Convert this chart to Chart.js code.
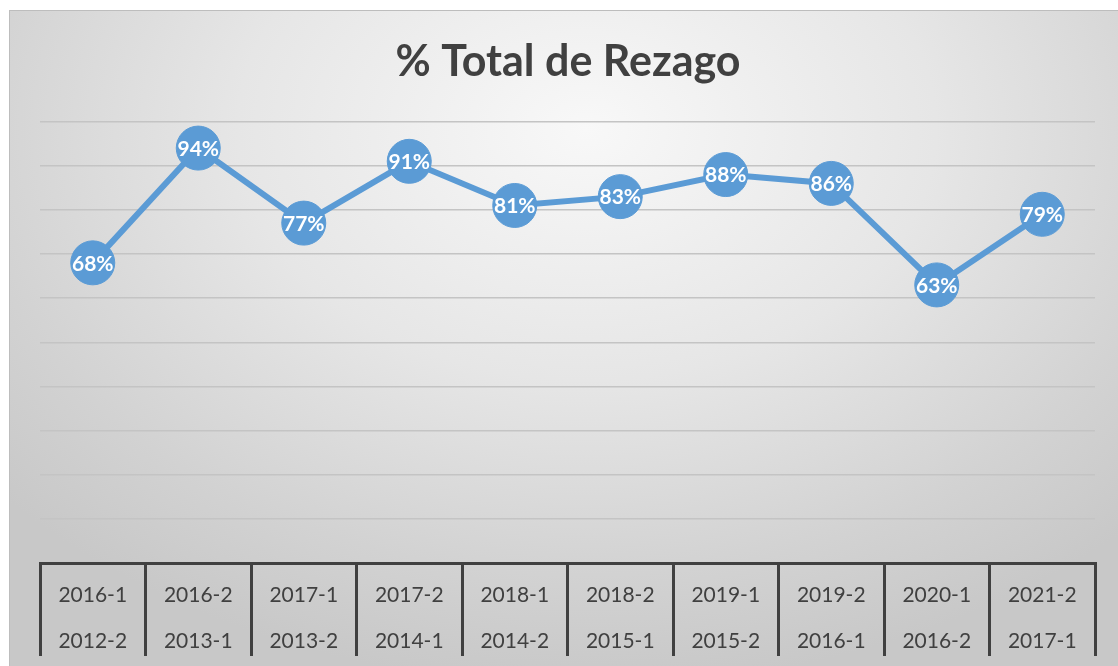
<!DOCTYPE html>
<html>
<head>
<meta charset="utf-8">
<script src="https://cdn.jsdelivr.net/npm/chart.js@4"></script>
<style>
    html, body { margin: 0; padding: 0; background: #ffffff; }
    #bg {
        position: absolute; left: 9px; top: 10px; width: 1109px; height: 656px;
        border-left: 1px solid #bdbdbd; border-top: 1px solid #bdbdbd;
        background: radial-gradient(ellipse 70% 85% at 52% 18%, #f8f8f8 0%, #e6e6e6 45%, #d2d2d2 80%, #c8c8c8 100%);
    }
    #wrap { position: absolute; left: 0; top: 0; width: 1118px; height: 666px; }
</style>
</head>
<body>
<div id="bg"></div>
<div id="wrap"><canvas id="rezagoChart"></canvas></div>
<script>
const periodTop = ['2016-1', '2016-2', '2017-1', '2017-2', '2018-1', '2018-2', '2019-1', '2019-2', '2020-1', '2021-2'];
const periodBottom = ['2012-2', '2013-1', '2013-2', '2014-1', '2014-2', '2015-1', '2015-2', '2016-1', '2016-2', '2017-1'];
const rezagoValues = [68, 94, 77, 91, 81, 83, 88, 86, 63, 79];

// Labels drawn in white in the middle of every point
const pointLabels = {
    id: 'pointLabels',
    afterDatasetsDraw(chart) {
        const ctx = chart.ctx;
        const meta = chart.getDatasetMeta(0);
        ctx.save();
        ctx.fillStyle = '#ffffff';
        ctx.font = 'bold 21px Lato';
        ctx.textAlign = 'center';
        ctx.textBaseline = 'middle';
        meta.data.forEach(function(pt, i) {
            ctx.fillText(rezagoValues[i] + '%', pt.x, pt.y + 1);
        });
        ctx.restore();
    }
};

const ctx = document.getElementById('rezagoChart').getContext('2d');
const rezagoChart = new Chart(ctx, {
    type: 'line',
    data: {
        labels: periodTop.map(function(p, i) { return [p, periodBottom[i]]; }),
        datasets: [{
            label: '% Total de Rezago',
            data: rezagoValues,
            borderColor: '#5b9bd5',
            backgroundColor: '#5b9bd5',
            borderWidth: 6,
            pointRadius: 22,
            pointHoverRadius: 22,
            pointBackgroundColor: '#5b9bd5',
            pointBorderColor: '#5b9bd5',
            pointBorderWidth: 1,
            tension: 0,
            clip: false
        }]
    },
    options: {
        responsive: true,
        maintainAspectRatio: false,
        animation: false,
        layout: {
            padding: { left: 40, right: 22, top: 0, bottom: 3 }
        },
        plugins: {
            legend: { display: false },
            tooltip: { enabled: false },
            title: {
                display: true,
                text: '% Total de Rezago',
                color: '#404040',
                font: { family: 'Lato', size: 43, weight: 'bold' },
                padding: { top: 36, bottom: 34 }
            }
        },
        scales: {
            x: {
                offset: true,
                grid: {
                    offset: true,
                    drawOnChartArea: false,
                    tickLength: 93,
                    color: '#404040',
                    lineWidth: 3
                },
                border: { display: true, color: '#404040', width: 3 },
                ticks: {
                    color: '#404040',
                    font: { family: 'Lato', size: 21, lineHeight: 2.2 },
                    padding: -84,
                    maxRotation: 0,
                    autoSkip: false
                },
                afterFit: function(scale) {
                    scale.height = 100;
                }
            },
            y: {
                min: 0,
                max: 100,
                ticks: { display: false, stepSize: 10 },
                grid: { color: '#c4c4c4', lineWidth: 1.5, drawTicks: false },
                border: { display: false }
            }
        }
    },
    plugins: [pointLabels]
});
</script>
</body>
</html>
